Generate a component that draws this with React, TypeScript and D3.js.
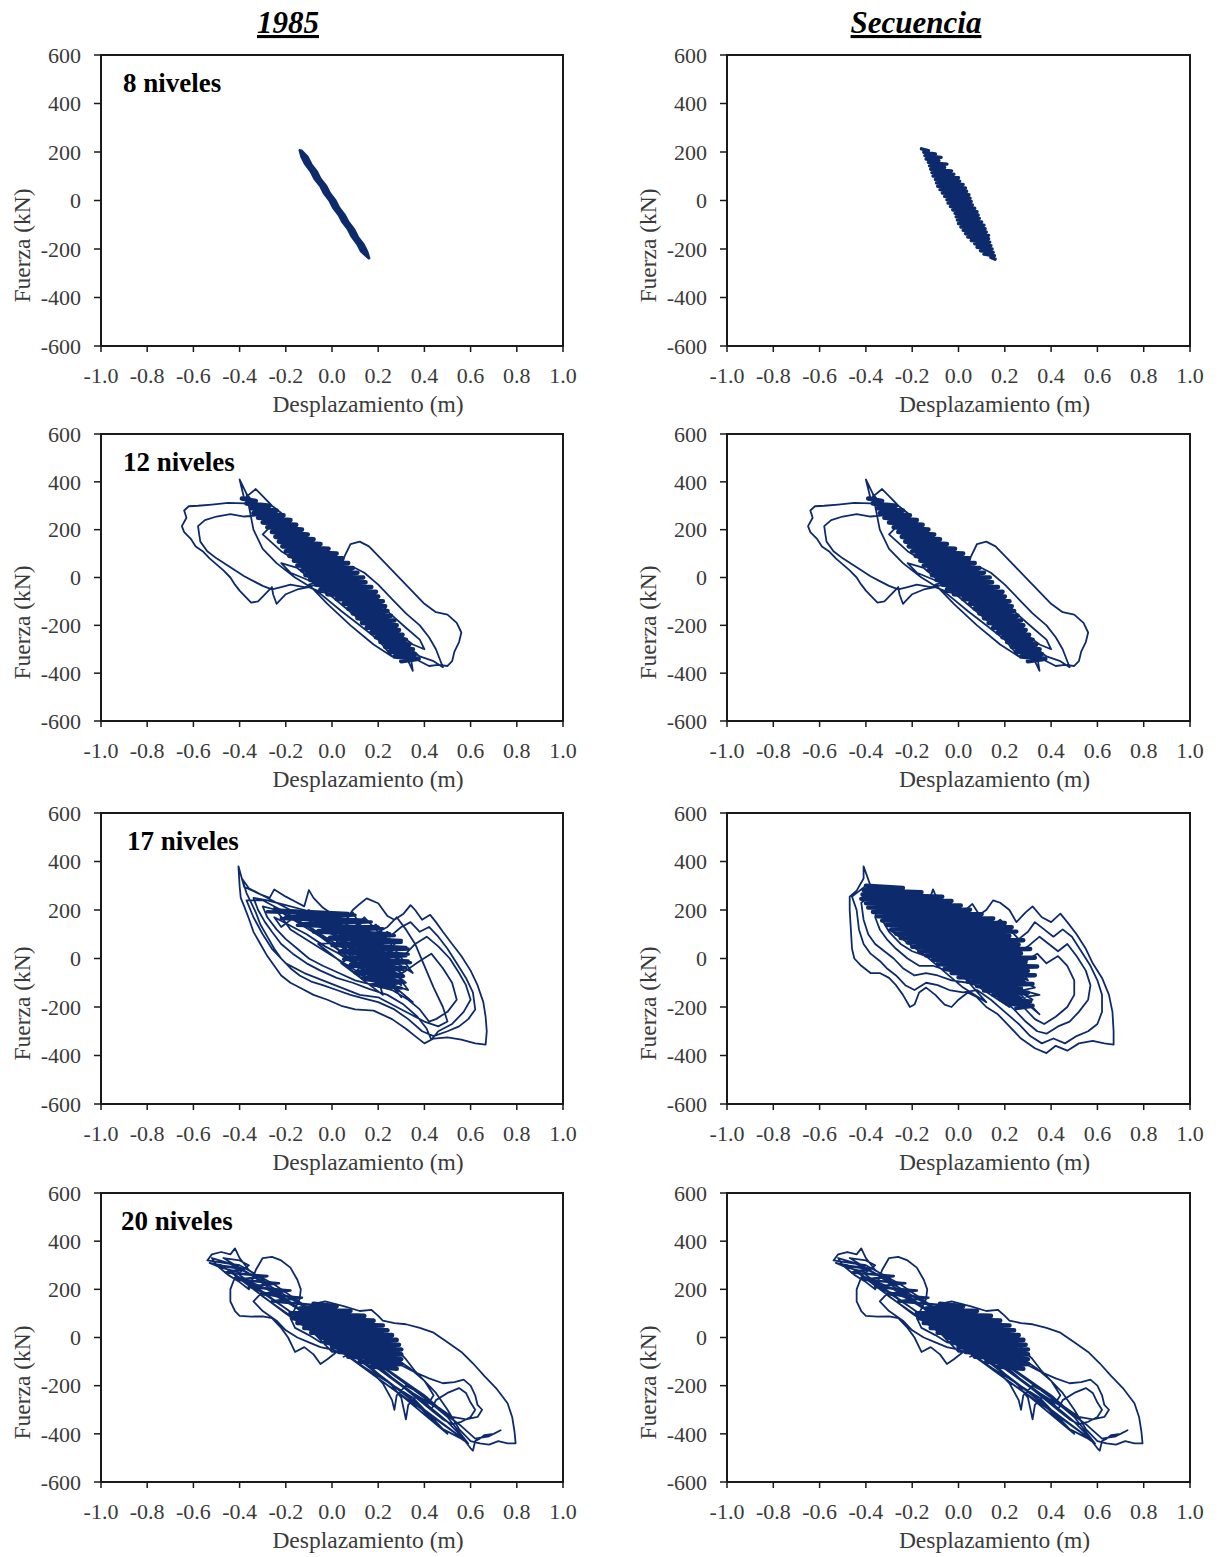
import React from 'react';
import * as d3 from 'd3';

type Pt = [number, number];

const xTicks = [-1.0, -0.8, -0.6, -0.4, -0.2, 0.0, 0.2, 0.4, 0.6, 0.8, 1.0];
const yTicks = [-600, -400, -200, 0, 200, 400, 600];
const columnTitles = ['1985', 'Secuencia'];
const rowLabels = ['8 niveles', '12 niveles', '17 niveles', '20 niveles'];
const xTitle = 'Desplazamiento  (m)';
const yTitle = 'Fuerza (kN)';

// 8 niveles – 1985 (narrow band traced in four passes)
const loop8_1985: Pt[] = [
  [-0.140, 208], [-0.132, 180], [-0.116, 150], [-0.092, 120], [-0.076, 90], [-0.051, 60], [-0.035, 30], [-0.011, 0],
  [0.005, -30], [0.029, -60], [0.046, -90], [0.070, -120], [0.086, -150], [0.110, -180], [0.126, -210], [0.158, -238],
  [0.161, -238], [0.152, -210], [0.136, -180], [0.112, -150], [0.096, -120], [0.072, -90], [0.055, -60], [0.031, -30],
  [0.015, 0], [-0.009, 30], [-0.025, 60], [-0.050, 90], [-0.066, 120], [-0.090, 150], [-0.106, 180], [-0.132, 206],
  [-0.137, 200], [-0.126, 180], [-0.106, 150], [-0.086, 120], [-0.066, 90], [-0.045, 60], [-0.025, 30], [-0.005, 0],
  [0.015, -30], [0.035, -60], [0.056, -90], [0.076, -120], [0.096, -150], [0.116, -180], [0.136, -210], [0.155, -232],
  [0.156, -228], [0.146, -210], [0.126, -180], [0.106, -150], [0.086, -120], [0.066, -90], [0.045, -60], [0.025, -30],
  [0.005, 0], [-0.015, 30], [-0.035, 60], [-0.056, 90], [-0.076, 120], [-0.096, 150], [-0.116, 180], [-0.134, 204],
];

// 8 niveles – Secuencia (wider band)
const loop8_seq: Pt[] = [
  [-0.16, 213], [-0.13, 206], [-0.15, 199], [-0.10, 192], [-0.145, 185], [-0.075, 178], [-0.14, 171], [-0.085, 164],
  [-0.13, 157], [-0.05, 150], [-0.125, 143], [-0.06, 136], [-0.12, 129], [-0.03, 122], [-0.115, 115], [-0.02, 108],
  [-0.11, 101], [0.0, 94], [-0.10, 87], [0.005, 80], [-0.095, 73], [0.02, 66], [-0.09, 59], [0.03, 52], [-0.08, 45],
  [0.035, 38], [-0.07, 31], [0.045, 24], [-0.06, 17], [0.05, 10], [-0.05, 3], [0.055, -4], [-0.045, -11], [0.06, -18],
  [-0.035, -25], [0.07, -32], [-0.025, -39], [0.08, -46], [-0.015, -53], [0.085, -60], [-0.01, -67], [0.09, -74],
  [-0.005, -81], [0.10, -88], [0.0, -95], [0.11, -102], [0.01, -109], [0.115, -116], [0.02, -123], [0.12, -130],
  [0.03, -137], [0.13, -144], [0.04, -151], [0.13, -158], [0.055, -165], [0.135, -172], [0.07, -179], [0.14, -186],
  [0.08, -193], [0.145, -200], [0.095, -207], [0.15, -214], [0.11, -221], [0.155, -228], [0.14, -235], [0.158, -242],
];

// 12 niveles (same trace in both columns): loops
const loop12: Pt[] = [
  [0.00, 0], [0.04, -40], [-0.03, 30], [0.06, -20], [-0.06, 60], [0.03, -70], [-0.09, 90], [0.07, -50], [-0.04, 20],
  [0.10, -110], [-0.12, 130], [-0.02, 40], [0.08, -90], [-0.15, 160], [-0.05, 70], [0.12, -130],
  [0.05, -30], [-0.10, 110], [-0.20, 200], [-0.13, 100], [0.0, -20], [0.14, -150], [0.2, -220], [0.1, -110],
  [-0.05, 30], [-0.18, 150], [-0.26, 250], [-0.3, 300], [-0.22, 230], [-0.12, 120], [0.02, 0], [0.15, -130],
  [0.25, -260], [0.3, -330], [0.22, -240], [0.1, -90], [-0.04, 40], [-0.2, 180],
  [-0.3, 260], [-0.36, 330], [-0.4, 410], [-0.38, 330], [-0.33, 370], [-0.3, 340], [-0.26, 300], [-0.22, 270],
  [-0.2, 220], [-0.1, 120], [0.0, 30], [0.06, -40], [0.12, -120], [0.2, -200], [0.28, -280], [0.33, -350],
  [0.35, -390], [0.34, -330], [0.28, -300], [0.22, -230], [0.15, -170], [0.06, -90], [-0.02, -30], [-0.1, 40],
  [-0.2, 140], [-0.28, 230], [-0.35, 300],
  [-0.38, 310], [-0.45, 312], [-0.52, 305], [-0.58, 300], [-0.62, 298], [-0.64, 280], [-0.63, 250], [-0.65, 215],
  [-0.64, 190], [-0.61, 160], [-0.59, 130], [-0.56, 110], [-0.53, 80], [-0.5, 55], [-0.47, 30], [-0.44, 0],
  [-0.42, -30], [-0.40, -55], [-0.37, -85], [-0.35, -105], [-0.32, -100], [-0.30, -80], [-0.28, -60], [-0.26, -40],
  [-0.255, -70], [-0.24, -110], [-0.2, -70], [-0.15, -50], [-0.1, -40], [-0.05, -60], [0.0, -70], [0.05, -90],
  [0.1, -100], [0.15, -130],
  [0.05, -60], [-0.05, 20], [-0.15, 110], [-0.25, 200], [-0.32, 260],
  [-0.38, 255], [-0.44, 265], [-0.5, 255], [-0.55, 240], [-0.58, 215], [-0.575, 180], [-0.57, 150], [-0.54, 110],
  [-0.5, 80], [-0.46, 55], [-0.42, 30], [-0.38, 5], [-0.34, -15], [-0.3, -35], [-0.26, -50], [-0.22, -40],
  [-0.18, -30], [-0.12, -40], [-0.06, -30], [0.0, -50],
  [0.04, 20], [0.05, 80], [0.08, 140], [0.12, 150], [0.16, 130], [0.2, 90], [0.25, 40], [0.3, -10], [0.35, -60],
  [0.4, -110], [0.45, -145], [0.5, -155], [0.54, -190], [0.56, -230], [0.55, -270], [0.53, -310], [0.52, -350],
  [0.5, -370], [0.46, -365], [0.42, -370], [0.38, -350], [0.3, -300], [0.22, -230], [0.14, -160], [0.06, -80],
  [0.0, -30],
  [0.06, 20], [0.1, 40], [0.14, 20], [0.2, -30], [0.26, -90], [0.32, -150], [0.38, -200], [0.42, -250],
  [0.45, -300], [0.47, -350], [0.48, -375], [0.44, -350], [0.38, -330], [0.3, -270], [0.22, -200], [0.14, -130],
  [0.05, -60],
  [-0.05, 60], [0.02, 60], [0.1, -10], [0.18, -80], [0.25, -150], [0.32, -210], [0.38, -260], [0.4, -300],
  [0.35, -280], [0.28, -230], [0.2, -180], [0.1, -100], [0.0, -20], [-0.1, 70], [-0.2, 160], [-0.27, 210],
  [-0.3, 180], [-0.22, 110], [-0.12, 50], [-0.05, -10], [0.05, -100], [0.15, -190], [0.24, -250], [0.3, -310],
  [0.25, -300], [0.15, -200], [0.05, -120], [-0.05, -40], [-0.15, 40], [-0.22, 60], [-0.18, 20], [-0.08, -20],
  [-0.37, 350], [-0.34, 200], [-0.3, 120], [-0.24, 60], [-0.16, 0], [-0.06, -60], [0.04, -140], [0.12, -200],
  [0.2, -260], [0.26, -330], [0.18, -280], [0.08, -200], [-0.02, -110], [-0.1, -30], [0.0, 0],
];

// 12 niveles: dense core
const core12: Pt[] = [
  [-0.39, 330], [-0.33, 320], [-0.37, 310], [-0.27, 300], [-0.35, 290], [-0.24, 280], [-0.34, 270], [-0.21, 260],
  [-0.32, 250], [-0.18, 240], [-0.30, 230], [-0.155, 220], [-0.28, 210], [-0.13, 200], [-0.26, 190], [-0.105, 180],
  [-0.245, 170], [-0.08, 160], [-0.23, 150], [-0.05, 140], [-0.215, 130], [-0.015, 120], [-0.2, 110], [0.02, 100],
  [-0.185, 90], [0.045, 80], [-0.165, 70], [0.07, 60], [-0.15, 50], [0.09, 40], [-0.13, 30], [0.11, 20],
  [-0.115, 10], [0.135, 0], [-0.095, -10], [0.145, -20], [-0.07, -30], [0.17, -40], [-0.05, -50], [0.19, -60],
  [-0.02, -70], [0.2, -80], [0.02, -90], [0.22, -100], [0.05, -110], [0.23, -120], [0.07, -130], [0.24, -140],
  [0.09, -150], [0.255, -160], [0.11, -170], [0.27, -180], [0.13, -190], [0.28, -200], [0.15, -210], [0.29, -220],
  [0.17, -230], [0.305, -240], [0.19, -250], [0.32, -260], [0.21, -270], [0.335, -280], [0.23, -290], [0.35, -300],
  [0.25, -310], [0.36, -320], [0.27, -330], [0.375, -340], [0.3, -350],
];

// 17 niveles – 1985: loops
const loop17_1985: Pt[] = [
  [0.10, 0], [0.22, -60], [0.05, 70], [0.26, -90], [0.00, 110], [0.30, -110], [0.08, 40], [0.20, 10], [-0.04, 140],
  [0.16, -30], [0.31, -70], [0.12, 100], [0.26, 30], [0.02, 70], [0.20, -110], [0.07, 20], [0.30, -10], [0.13, 130],
  [0.27, -40], [-0.02, 160], [0.18, 60], [0.33, -130], [0.10, -60], [0.24, 110], [0.04, -20], [0.22, -150],
  [0.15, 70], [-0.06, 60], [0.14, -90], [0.28, 70], [0.06, 140], [0.30, -160], [0.09, 90], [0.35, -60],
  [0.19, 140], [0.03, 20], [0.25, -120],
  [0.10, 40], [-0.05, 130], [-0.18, 200], [-0.30, 260], [-0.38, 295], [-0.405, 380], [-0.40, 300], [-0.395, 250],
  [-0.38, 215], [-0.36, 165], [-0.34, 110], [-0.31, 60], [-0.28, 10], [-0.25, -30], [-0.22, -70], [-0.18, -100],
  [-0.13, -125], [-0.08, -150], [-0.02, -170], [0.04, -195], [0.10, -210], [0.18, -215], [0.26, -250],
  [0.32, -290], [0.36, -320], [0.40, -350], [0.44, -330], [0.50, -325], [0.56, -335], [0.62, -350], [0.665, -355],
  [0.67, -300], [0.665, -240], [0.655, -180], [0.63, -110], [0.60, -50], [0.56, 10], [0.52, 60], [0.48, 110],
  [0.45, 150], [0.425, 180], [0.39, 160], [0.36, 200], [0.34, 220], [0.31, 185], [0.27, 160], [0.24, 175],
  [0.20, 228], [0.15, 248], [0.12, 225], [0.09, 200], [0.06, 160], [0.02, 170], [-0.04, 210], [-0.08, 250],
  [-0.10, 282], [-0.12, 215], [-0.16, 235], [-0.20, 255], [-0.25, 285], [-0.27, 250], [-0.31, 265], [-0.36, 290],
  [-0.39, 330],
  [-0.37, 270], [-0.35, 230], [-0.33, 190], [-0.31, 140], [-0.28, 90], [-0.25, 40], [-0.22, 0], [-0.18, -40],
  [-0.14, -70], [-0.09, -95], [-0.04, -110], [0.02, -130], [0.08, -150], [0.14, -165], [0.20, -180], [0.27, -210],
  [0.33, -250], [0.39, -300], [0.44, -320], [0.50, -300], [0.55, -280], [0.59, -250], [0.62, -210], [0.61, -140],
  [0.58, -80], [0.54, -20], [0.50, 40], [0.46, 90], [0.42, 130], [0.38, 110], [0.34, 150], [0.30, 130],
  [0.25, 90], [0.20, 110], [0.14, 170], [0.10, 130], [0.04, 110], [-0.04, 160], [-0.12, 200], [-0.20, 220],
  [-0.28, 240], [-0.34, 250],
  [-0.32, 200], [-0.29, 150], [-0.26, 110], [-0.22, 60], [-0.17, 20], [-0.11, -20], [-0.05, -50], [0.02, -80],
  [0.09, -100], [0.16, -125], [0.24, -150], [0.31, -190], [0.37, -240], [0.41, -290], [0.43, -335], [0.46, -300],
  [0.52, -270], [0.57, -220], [0.60, -170], [0.58, -110], [0.55, -60], [0.51, 0], [0.46, 50], [0.41, 90],
  [0.36, 60], [0.32, 20], [0.26, -10], [0.20, 20], [0.14, 50], [0.08, 30], [0.0, 70], [-0.08, 120], [-0.16, 160],
  [-0.24, 200], [-0.30, 215],
  [-0.28, 170], [-0.24, 120], [-0.20, 80], [-0.15, 40], [-0.10, 0], [-0.04, -30], [0.03, -60], [0.10, -90],
  [0.18, -110], [0.26, -130], [0.33, -170], [0.38, -210], [0.42, -260], [0.45, -250], [0.50, -220], [0.54, -170],
  [0.52, -100], [0.48, -40], [0.43, 20], [0.38, -10], [0.32, -50], [0.27, -80], [0.20, -60], [0.12, -20],
  [0.05, 10], [-0.03, 50], [-0.11, 100], [-0.19, 140], [-0.25, 170],
  [-0.22, 130], [-0.15, 180], [-0.10, 200], [-0.05, 170], [0.0, 120], [0.05, 150], [0.09, 190], [0.12, 140],
  [0.18, 100], [0.24, 130], [0.28, 170], [0.32, 120], [0.36, 60], [0.40, -30], [0.44, -120], [0.48, -200],
  [0.50, -260], [0.46, -280], [0.40, -260], [0.34, -230], [0.28, -200], [0.20, -160], [0.12, -150], [0.04, -120],
  [-0.04, -90], [-0.12, -60], [-0.20, -20], [-0.26, 40], [-0.30, 100], [-0.34, 170], [-0.37, 240],
  [-0.30, 240], [-0.20, 190], [-0.10, 130], [0.0, 60], [0.10, -20], [0.20, -80], [0.30, -140], [0.35, -180],
  [0.25, -100], [0.15, -40], [0.05, 20], [-0.05, 90], [-0.15, 150], [-0.25, 210], [-0.18, 120], [-0.08, 60],
  [0.02, 0], [0.12, -60], [0.22, -110], [0.32, -100], [0.22, -20], [0.12, 40], [0.02, 90], [-0.08, 160],
  [0.0, 180], [0.1, 70], [0.2, -30], [0.28, 0], [0.18, 90], [0.08, 160],
];

// 17 niveles – 1985: dense core
const core17_1985: Pt[] = [
  [-0.25, 200], [0.07, 186], [-0.2, 172], [0.14, 158], [-0.13, 144], [0.2, 130], [-0.06, 116], [0.25, 102],
  [-0.01, 88], [0.3, 74], [0.02, 60], [0.32, 46], [0.04, 32], [0.33, 18], [0.06, 4], [0.33, -10], [0.08, -24],
  [0.32, -38], [0.11, -52], [0.3, -66], [0.13, -80], [0.3, -94], [0.17, -108], [0.3, -122],
  [0.2, -115], [0.28, -101], [0.14, -87], [0.31, -73], [0.1, -59], [0.31, -45], [0.07, -31], [0.34, -17],
  [0.05, -3], [0.32, 11], [0.03, 25], [0.33, 39], [0.0, 53], [0.3, 67], [-0.03, 81], [0.27, 95], [-0.08, 109],
  [0.22, 123], [-0.15, 137], [0.17, 151], [-0.22, 165], [0.1, 179], [-0.28, 193],
];

// 17 niveles – Secuencia: loops
const loop17_seq: Pt[] = [
  [0.0, 0], [-0.10, 90], [-0.22, 180], [-0.30, 250], [-0.15, 120], [0.05, -40], [0.18, -130], [0.30, -200],
  [0.15, -80], [-0.05, 70], [-0.25, 200], [-0.12, 150], [0.08, 10], [0.25, -150], [0.12, -60], [-0.08, 100],
  [-0.35, 270], [-0.18, 170], [0.0, 40], [0.20, -100], [0.32, -170], [0.14, -40], [-0.04, 110], [-0.28, 180],
  [-0.10, 60], [0.10, -70], [0.28, -50], [0.10, 60], [-0.15, 200], [-0.32, 220], [-0.12, 80], [0.05, -60],
  [0.22, -200], [0.06, -100], [-0.10, 20], [-0.22, 150], [-0.05, 170], [0.12, 40], [0.30, 0], [0.16, 20],
  [0.0, 150], [-0.20, 230], [-0.05, 120], [0.15, -20], [0.33, -120], [0.18, -150], [0.0, -40], [-0.18, 100],
  [-0.30, 160], [-0.12, 40], [0.08, -80], [0.25, -30], [0.05, 100], [-0.10, 180], [-0.25, 260], [-0.08, 140],
  [0.10, 0], [0.30, -90], [0.20, 40], [0.04, 60], [-0.20, 80], [0.0, -20], [0.20, -170], [0.35, -150],
  [0.15, -100], [-0.02, 20], [-0.18, 60], [-0.30, 120], [-0.14, 10], [0.02, -120], [0.12, -180],
  [-0.30, 270], [-0.38, 300], [-0.41, 380], [-0.41, 330], [-0.44, 280], [-0.47, 255], [-0.47, 200], [-0.465, 120],
  [-0.46, 40], [-0.45, 0], [-0.42, -30], [-0.38, -60], [-0.34, -60], [-0.30, -80], [-0.27, -110], [-0.24, -150],
  [-0.21, -200], [-0.19, -190], [-0.17, -140], [-0.14, -120], [-0.10, -150], [-0.06, -190], [-0.03, -200],
  [0.0, -170], [0.04, -140], [0.08, -160], [0.12, -200], [0.17, -230], [0.22, -280], [0.27, -330], [0.33, -370],
  [0.38, -390], [0.42, -360], [0.47, -380], [0.52, -350], [0.58, -340], [0.63, -350], [0.67, -355], [0.67, -300],
  [0.665, -220], [0.65, -150], [0.62, -80], [0.58, -20], [0.55, 40], [0.51, 100], [0.47, 150], [0.44, 185],
  [0.40, 150], [0.36, 170], [0.32, 215], [0.29, 190], [0.25, 150], [0.22, 200], [0.18, 230], [0.15, 240],
  [0.12, 200], [0.09, 180], [0.06, 225], [0.03, 200], [0.0, 170], [-0.05, 200], [-0.09, 240], [-0.11, 285],
  [-0.13, 230], [-0.18, 260], [-0.22, 265], [-0.25, 285], [-0.28, 260], [-0.34, 280], [-0.40, 300], [-0.46, 255],
  [-0.44, 200], [-0.43, 120], [-0.41, 60], [-0.38, 20], [-0.34, -10], [-0.31, -40], [-0.27, -70], [-0.23, -110],
  [-0.19, -130], [-0.14, -100], [-0.09, -110], [-0.04, -130], [0.02, -140], [0.08, -130], [0.14, -170],
  [0.20, -220], [0.26, -270], [0.31, -320], [0.36, -350], [0.41, -330], [0.46, -350], [0.51, -320], [0.56, -300],
  [0.60, -270], [0.62, -220], [0.62, -150], [0.60, -90], [0.57, -30], [0.53, 30], [0.49, 90], [0.45, 120],
  [0.41, 90], [0.37, 120], [0.33, 150], [0.30, 110], [0.26, 80], [0.22, 120], [0.18, 160], [0.14, 130],
  [0.10, 110], [0.05, 150], [0.0, 130], [-0.06, 170], [-0.12, 200], [-0.18, 220], [-0.25, 240], [-0.32, 250],
  [-0.38, 260], [-0.42, 230],
  [-0.41, 160], [-0.39, 100], [-0.36, 60], [-0.32, 30], [-0.28, 0], [-0.24, -40], [-0.19, -70], [-0.14, -60],
  [-0.09, -70], [-0.03, -90], [0.04, -100], [0.11, -120], [0.18, -160], [0.24, -210], [0.29, -260], [0.34, -300],
  [0.38, -310], [0.43, -280], [0.48, -260], [0.52, -220], [0.56, -170], [0.57, -110], [0.55, -50], [0.51, 10],
  [0.47, 60], [0.43, 30], [0.39, 60], [0.35, 90], [0.30, 50], [0.25, 20], [0.20, 60], [0.15, 90], [0.10, 60],
  [0.04, 100], [-0.04, 130], [-0.12, 160], [-0.20, 190], [-0.28, 210], [-0.35, 220],
  [-0.36, 170], [-0.34, 120], [-0.31, 80], [-0.27, 40], [-0.22, 0], [-0.17, -30], [-0.11, -30], [-0.05, -50],
  [0.02, -60], [0.09, -80], [0.16, -110], [0.23, -150], [0.28, -200], [0.33, -250], [0.37, -270], [0.42, -240],
  [0.47, -200], [0.50, -150], [0.50, -90], [0.47, -30], [0.43, 10], [0.38, -20], [0.34, 20], [0.29, -10],
  [0.24, -40], [0.18, 0], [0.12, 30], [0.05, 50], [-0.03, 90], [-0.11, 130], [-0.19, 160], [-0.27, 180],
  [-0.33, 160], [-0.30, 110], [-0.25, 60], [-0.20, 30], [-0.14, 10], [-0.07, -10], [0.0, -20], [0.08, -40],
  [0.15, -70], [0.22, -100], [0.27, -150], [0.32, -200], [0.35, -230], [0.30, -190], [0.24, -140], [0.18, -90],
  [0.11, -50], [0.04, -10], [-0.04, 30], [-0.12, 80], [-0.20, 120], [-0.28, 140],
];

// 17 niveles – Secuencia: dense core
const core17_seq: Pt[] = [
  [-0.40, 300], [-0.24, 291], [-0.41, 282], [-0.16, 273], [-0.415, 264], [-0.07, 255], [-0.42, 246], [-0.03, 237],
  [-0.40, 228], [0.01, 219], [-0.39, 210], [0.05, 201], [-0.37, 192], [0.1, 183], [-0.35, 174], [0.15, 165],
  [-0.33, 156], [0.2, 147], [-0.31, 138], [0.23, 129], [-0.29, 120], [0.25, 111], [-0.27, 102], [0.22, 93],
  [-0.25, 84], [0.28, 75], [-0.22, 66], [0.26, 57], [-0.2, 48], [0.31, 39], [-0.17, 30], [0.27, 21], [-0.14, 12],
  [0.33, 3], [-0.11, -6], [0.29, -15], [-0.09, -24], [0.34, -33], [-0.06, -42], [0.3, -51], [-0.03, -60],
  [0.33, -69], [0.0, -78], [0.28, -87], [0.04, -96], [0.32, -105], [0.08, -114], [0.27, -123], [0.11, -132],
  [0.3, -141], [0.15, -150], [0.26, -159], [0.18, -168], [0.31, -177], [0.21, -186], [0.32, -195], [0.25, -204],
];

// 20 niveles (same trace in both columns): loops
const loop20: Pt[] = [
  [0.0, 0], [0.10, -40], [-0.05, 60], [0.15, -60], [-0.10, 80], [0.20, -80], [0.0, 40], [0.12, 20], [-0.02, 100],
  [0.18, -30], [0.05, -80], [0.22, -20], [-0.08, 30], [0.10, 80], [0.25, -60], [0.02, -40], [-0.12, 120],
  [0.08, 10], [0.20, -100], [-0.04, -20], [0.14, 60], [0.24, -40], [0.0, -60], [-0.15, 90], [0.06, 50],
  [0.18, -120], [0.28, -100], [0.10, -10], [-0.06, 110], [0.12, -80], [0.22, 20], [0.04, 70],
  [-0.10, 120], [-0.25, 220], [-0.40, 300], [-0.54, 320], [-0.52, 345], [-0.48, 355], [-0.44, 345], [-0.42, 370],
  [-0.40, 330], [-0.36, 280], [-0.30, 240], [-0.20, 160], [-0.10, 90], [0.0, 20], [0.10, -60], [0.20, -130],
  [0.30, -200], [0.40, -270], [0.50, -350], [0.56, -410], [0.60, -460], [0.61, -470], [0.62, -430], [0.64, -420],
  [0.66, -405], [0.70, -400], [0.73, -385], [0.68, -410], [0.62, -420],
  [0.55, -360], [0.45, -290], [0.35, -230], [0.25, -160], [0.15, -90], [0.05, -20], [-0.05, 50], [-0.15, 120],
  [-0.25, 190], [-0.35, 260], [-0.45, 310], [-0.52, 330], [-0.50, 300], [-0.45, 260], [-0.40, 230], [-0.36, 200],
  [-0.33, 280], [-0.30, 330], [-0.26, 335], [-0.22, 320], [-0.18, 290], [-0.15, 240], [-0.135, 200], [-0.14, 160],
  [-0.16, 120], [-0.18, 80], [-0.16, 40], [-0.10, 10], [-0.05, -20], [0.0, -30], [0.05, -50], [0.12, -90],
  [0.20, -150], [0.28, -210], [0.35, -260], [0.42, -330], [0.48, -380], [0.52, -400], [0.56, -420], [0.59, -440],
  [0.50, -330], [0.40, -250], [0.30, -180], [0.20, -110], [0.10, -40], [0.0, 30], [-0.10, 90], [-0.20, 150],
  [-0.28, 200], [-0.35, 230], [-0.42, 250], [-0.44, 200], [-0.44, 150], [-0.42, 110], [-0.40, 90], [-0.35, 87],
  [-0.30, 88], [-0.26, 80], [-0.22, 40], [-0.19, 0], [-0.17, -40], [-0.16, -60], [-0.12, -40], [-0.08, -70],
  [-0.05, -110], [-0.02, -90], [0.02, -60], [0.08, -60], [0.14, -100], [0.20, -150], [0.26, -200], [0.30, -250],
  [0.32, -340], [0.33, -280], [0.36, -250], [0.40, -260], [0.43, -300], [0.45, -260], [0.50, -230], [0.55, -210],
  [0.58, -230], [0.60, -270], [0.62, -300], [0.60, -330], [0.56, -350], [0.52, -360], [0.48, -340], [0.44, -310],
  [0.30, -200], [0.18, -100], [0.08, 0], [0.0, 60], [-0.05, 100], [-0.08, 140], [-0.03, 150], [0.05, 130],
  [0.12, 110], [0.17, 115], [0.20, 90], [0.22, 70], [0.27, 60], [0.32, 55], [0.38, 40], [0.44, 20], [0.50, -20],
  [0.56, -60], [0.61, -107], [0.66, -160], [0.71, -210], [0.76, -273], [0.78, -330], [0.79, -390], [0.795, -440],
  [0.76, -440], [0.72, -430], [0.68, -445], [0.64, -440], [0.60, -430],
  [0.55, -380], [0.50, -300], [0.45, -230], [0.40, -180], [0.36, -140], [0.32, -90], [0.28, -50], [0.25, -20],
  [0.22, 20], [0.18, 40], [0.14, 60], [0.10, 40], [0.04, 30],
  [0.15, -30], [0.25, -90], [0.35, -140], [0.42, -170], [0.48, -190], [0.53, -185], [0.57, -175], [0.60, -200],
  [0.62, -240], [0.63, -280], [0.65, -300], [0.63, -330], [0.58, -340], [0.52, -330], [0.46, -290], [0.40, -240],
  [0.34, -200], [0.28, -160], [0.22, -120], [0.16, -80], [0.10, -30],
  [0.0, 40], [-0.08, 80], [-0.16, 130], [-0.24, 170], [-0.30, 190], [-0.34, 150], [-0.30, 110], [-0.24, 70],
  [-0.20, 30], [-0.15, 0], [-0.10, -20], [-0.05, -40], [0.0, -50], [0.06, -70], [0.12, -110], [0.18, -150],
  [0.22, -190], [0.26, -260], [0.27, -300], [0.28, -240], [0.32, -200], [0.38, -230], [0.42, -270], [0.44, -240],
  [0.40, -180], [0.34, -130], [0.28, -90], [0.22, -50], [0.16, -10], [0.10, 30], [0.04, 60], [-0.02, 70],
  [-0.47, 330], [-0.40, 320], [-0.36, 300], [-0.40, 270], [-0.48, 290], [-0.53, 310],
  [-0.48, 300], [-0.2, 120], [0.1, -80], [0.4, -300], [0.58, -430], [0.45, -340], [0.2, -170], [-0.1, 50],
  [-0.4, 260], [-0.3, 170], [0.0, -30], [0.3, -240], [0.5, -400], [0.35, -250], [0.1, -100], [-0.2, 100],
  [-0.45, 280],
];

// 20 niveles: dense core and upper-left band
const core20: Pt[] = [
  [-0.08, 140], [0.02, 130], [-0.14, 120], [0.08, 110], [-0.18, 100], [0.14, 90], [-0.17, 80], [0.18, 70],
  [-0.15, 60], [0.22, 50], [-0.12, 40], [0.24, 30], [-0.09, 20], [0.26, 10], [-0.05, 0], [0.28, -10],
  [-0.02, -20], [0.29, -30], [0.0, -40], [0.3, -50], [0.03, -60], [0.3, -70], [0.07, -80], [0.3, -90],
  [0.12, -100], [0.3, -110], [0.17, -120], [0.28, -130],
];
const band20: Pt[] = [
  [-0.5, 300], [-0.38, 285], [-0.46, 270], [-0.28, 255], [-0.41, 240], [-0.23, 225], [-0.36, 210], [-0.18, 195],
  [-0.31, 180], [-0.13, 165], [-0.26, 150], [-0.08, 135],
];

// series per panel: [trace, stroke width]
const panelSeries: [Pt[], number][][][] = [
  [[[loop8_1985, 2.4]], [[loop8_seq, 3.4]]],
  [[[loop12, 1.8], [core12, 4.6]], [[loop12, 1.8], [core12, 4.6]]],
  [[[loop17_1985, 1.8], [core17_1985, 3.4]], [[loop17_seq, 1.8], [core17_seq, 4.4]]],
  [[[loop20, 1.8], [core20, 4.6], [band20, 2.6]], [[loop20, 1.8], [core20, 4.6], [band20, 2.6]]],
];

// layout
const W = 1219;
const H = 1557;
const cols = [
  { left: 101, right: 563, titleX: 288 },
  { left: 727, right: 1190, titleX: 916 },
];
const rows = [
  { top: 55, bottom: 346 },
  { top: 434, bottom: 721 },
  { top: 813, bottom: 1104 },
  { top: 1193, bottom: 1482 },
];
const labelDx = [22, 22, 26, 20];

const LINE = '#0d2b6c';
const TXT = '#3a3a3a';
const FONT = '"Liberation Serif", "Times New Roman", serif';

function Panel({ left, right, top, bottom, series, label, labelOffset }: {
  left: number; right: number; top: number; bottom: number; series: [Pt[], number][]; label: string | null; labelOffset: number;
}) {
  const x = d3.scaleLinear().domain([-1, 1]).range([left, right]);
  const y = d3.scaleLinear().domain([-600, 600]).range([bottom, top]);
  const line = d3.line<Pt>().x((d) => x(d[0])).y((d) => y(d[1]));
  return (
    <g>
      {series.map(([s, w], i) => (
        <path key={i} d={line(s) || ''} fill="none" stroke={LINE} strokeWidth={w} strokeLinejoin="round" strokeLinecap="round" />
      ))}
      <rect x={left} y={top} width={right - left} height={bottom - top} fill="none" stroke="#1a1a1a" strokeWidth={2} />
      {xTicks.map((t) => (
        <g key={'x' + t}>
          <line x1={x(t)} x2={x(t)} y1={bottom} y2={bottom + 6} stroke="#1a1a1a" strokeWidth={1.5} />
          <text x={x(t)} y={bottom + 37} textAnchor="middle" fontSize={22} fill={TXT} fontFamily={FONT}>
            {t.toFixed(1)}
          </text>
        </g>
      ))}
      {yTicks.map((t) => (
        <g key={'y' + t}>
          <line x1={left - 7} x2={left} y1={y(t)} y2={y(t)} stroke="#1a1a1a" strokeWidth={1.5} />
          <text x={left - 20} y={y(t)} dy="0.35em" textAnchor="end" fontSize={22} fill={TXT} fontFamily={FONT}>
            {String(t)}
          </text>
        </g>
      ))}
      <text x={(left + right) / 2 + 36} y={bottom + 66} textAnchor="middle" fontSize={23.5} fill={TXT} fontFamily={FONT}>
        {xTitle}
      </text>
      <text
        transform={`translate(${left - 79},${(top + bottom) / 2 + 45}) rotate(-90)`}
        textAnchor="middle" dy="0.35em" fontSize={23.5} fill={TXT} fontFamily={FONT}
      >
        {yTitle}
      </text>
      {label && (
        <text x={left + labelOffset} y={top + 37} fontSize={27} fontWeight="bold" fill="#000" fontFamily={FONT}>
          {label}
        </text>
      )}
    </g>
  );
}

export default function App() {
  return (
    <svg width={W} height={H} style={{ position: 'absolute', left: 0, top: 0, background: '#fff' }}>
      <rect x={0} y={0} width={W} height={H} fill="#fff" />
      {columnTitles.map((t, i) => (
        <text key={t} x={cols[i].titleX} y={33} textAnchor="middle" fontSize={31} fontWeight="bold" fontStyle="italic"
          textDecoration="underline" fill="#000" fontFamily={FONT}>
          {t}
        </text>
      ))}
      {rows.map((r, ri) =>
        cols.map((c, ci) => (
          <Panel key={ri + '-' + ci} left={c.left} right={c.right} top={r.top} bottom={r.bottom}
            series={panelSeries[ri][ci]} label={ci === 0 ? rowLabels[ri] : null} labelOffset={labelDx[ri]} />
        ))
      )}
    </svg>
  );
}
